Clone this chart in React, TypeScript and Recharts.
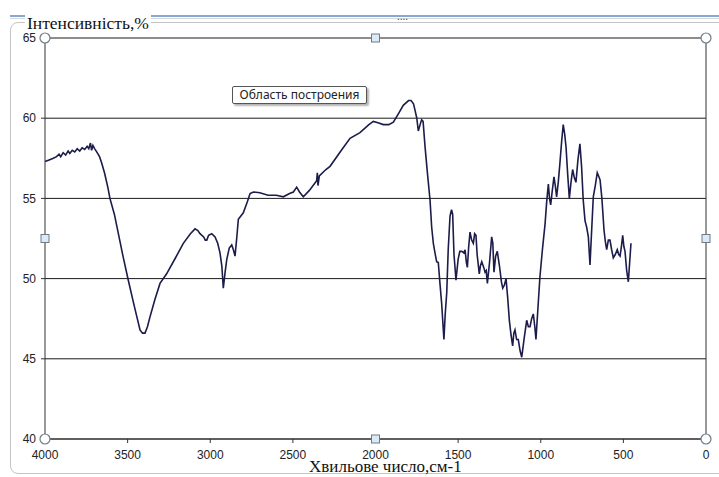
import { LineChart, Line, XAxis, YAxis, CartesianGrid, ReferenceLine, ReferenceDot } from "recharts";

// wavenumber, cm-1
const wavenumbers = [
  4000, 3975, 3950, 3930, 3915, 3905, 3890, 3875, 3860, 3850, 3835, 3820, 3805, 3790, 3775, 3760,
  3745, 3735, 3725, 3718, 3710, 3700, 3687, 3670, 3657, 3640, 3620, 3607, 3580, 3556, 3530, 3496,
  3460, 3425, 3410, 3395, 3380, 3365, 3335, 3304, 3264, 3210, 3163, 3120, 3092, 3075, 3062, 3040,
  3030, 3021, 3010, 2991, 2971, 2955, 2941, 2930, 2921, 2910, 2900, 2885, 2870, 2860, 2850, 2840,
  2830, 2800, 2775, 2759, 2739, 2700, 2650, 2600, 2558, 2520, 2497, 2477, 2460, 2437, 2400, 2356,
  2352, 2348, 2340, 2300, 2275, 2200, 2154, 2094, 2040, 2013, 1980, 1953, 1920, 1892, 1860, 1832,
  1800, 1785, 1770, 1761, 1750, 1741, 1730, 1721, 1712, 1700, 1685, 1670, 1660, 1650, 1640, 1630,
  1620, 1610, 1600, 1586, 1578, 1569, 1560, 1549, 1540, 1533, 1525, 1513, 1500, 1490, 1478, 1465,
  1458, 1450, 1444, 1436, 1428, 1418, 1408, 1400, 1392, 1385, 1372, 1365, 1357, 1345, 1337, 1330,
  1323, 1310, 1297, 1290, 1283, 1273, 1263, 1250, 1238, 1230, 1220, 1210, 1200, 1190, 1180, 1170,
  1163, 1156, 1146, 1136, 1125, 1115, 1100, 1085, 1075, 1065, 1055, 1045, 1036, 1029, 1018, 1005,
  990, 974, 964, 954, 947, 940, 930, 920, 912, 904, 894, 884, 874, 864, 855, 847,
  837, 827, 817, 807, 797, 787, 775, 763, 753, 743, 732, 722, 712, 702, 692, 682,
  670, 658, 650, 641, 630, 617, 609, 601, 591, 581, 571, 561, 549, 537, 528, 520,
  512, 504, 497, 490, 480, 470, 462, 454,
];

// intensity, %
const intensity = [
  57.3, 57.4, 57.5, 57.6, 57.75, 57.6, 57.85, 57.7, 57.95, 57.8, 58.0, 57.9, 58.1, 57.95, 58.15, 58.05,
  58.25, 58.1, 58.45, 58.0, 58.3, 58.1, 57.9, 57.6, 57.2, 56.6, 55.7, 55.0, 54.0, 52.8, 51.5, 49.9,
  48.3, 46.8, 46.6, 46.6, 47.0, 47.6, 48.7, 49.7, 50.3, 51.3, 52.2, 52.8, 53.1, 53.0, 52.8, 52.6,
  52.4, 52.4, 52.7, 52.8, 52.6, 52.2, 51.6, 50.8, 49.4, 50.4, 51.2, 51.9, 52.1, 51.8, 51.4, 52.5,
  53.7, 54.1, 54.8, 55.3, 55.4, 55.35, 55.2, 55.2, 55.1, 55.3, 55.4, 55.7, 55.4, 55.1, 55.5, 56.1,
  56.6, 55.8, 56.4, 56.8, 57.0, 58.1, 58.75, 59.1, 59.6, 59.8, 59.7, 59.6, 59.6, 59.75, 60.3, 60.8,
  61.1, 61.1, 60.9, 60.5, 60.0, 59.2, 59.6, 59.9, 59.8, 58.2, 56.5, 54.9, 53.2, 52.2, 51.6, 51.05,
  51.0, 49.7, 48.5, 46.2, 47.8, 49.1, 51.8, 53.9, 54.3, 54.0, 51.5, 49.9, 51.2, 51.7, 51.7, 51.6,
  51.8, 51.0, 50.7, 52.0, 52.9, 52.4, 52.2, 52.8, 52.7, 51.5, 50.3, 50.8, 51.05, 50.7, 50.4, 50.5,
  49.7, 51.0, 52.6, 52.2, 50.4, 51.4, 51.7, 50.8, 49.8, 49.4, 49.6, 50.0, 48.8, 47.4, 46.5, 45.8,
  46.6, 46.8, 46.2, 46.2, 45.5, 45.1, 46.3, 47.4, 47.0, 47.0, 47.5, 47.8, 47.0, 46.2, 48.0, 50.1,
  51.8, 53.4, 54.8, 55.9, 55.0, 54.6, 55.5, 56.35, 55.8, 55.1, 56.0, 57.2, 58.5, 59.6, 59.0, 58.2,
  56.5, 55.0, 56.0, 56.8, 56.3, 56.0, 57.4, 58.4, 57.0, 54.9, 53.6, 53.2, 52.6, 50.85, 53.0, 55.1,
  55.8, 56.6, 56.4, 56.15, 55.0, 53.0, 52.3, 51.8, 52.4, 52.4, 51.8, 51.3, 51.5, 51.8, 51.5, 51.4,
  52.0, 52.7, 52.0, 51.7, 50.5, 49.8, 51.0, 52.2,
];

const xTicks = [4000, 3500, 3000, 2500, 2000, 1500, 1000, 500, 0];
const yTicks = [40, 45, 50, 55, 60, 65];

const data = wavenumbers.map((w, i) => ({ w, v: intensity[i] }));

const tickStyle = { fill: "#222", fontSize: 12, fontFamily: "'Liberation Sans', Arial, sans-serif" };
const serif = "'Liberation Serif', 'Times New Roman', serif";

const circleHandle = (p: any) => (
  <circle cx={p.cx} cy={p.cy} r={5} fill="#fff" stroke="#6f7c88" strokeWidth={1.2} />
);
const squareHandle = (p: any) => (
  <rect x={p.cx - 4} y={p.cy - 4} width={8} height={8} fill="#dce9f6" stroke="#6f7c88" strokeWidth={1} />
);

export default function App() {
  return (
    <div style={{ position: "absolute", left: 0, top: 0, width: 719, height: 477, background: "#fff", overflow: "hidden" }}>
      {/* chart area frame */}
      <div
        style={{
          position: "absolute", left: 10, top: 22, width: 720, height: 450,
          border: "1px solid #c4c4c4", borderRadius: 8,
        }}
      />
      <div style={{ position: "absolute", left: 10, top: 15, width: 709, height: 2, background: "#86a8d2" }} />
      <div style={{ position: "absolute", left: 10, top: 18, width: 709, height: 1, background: "#d8d8d8" }} />
      <div style={{ position: "absolute", left: 397, top: 13, fontSize: 10, lineHeight: "8px", color: "#333", fontFamily: "'Liberation Sans', sans-serif" }}>....</div>

      <LineChart width={719} height={477} data={data} margin={{ top: 38, right: 13, bottom: 18, left: 0 }}>
        <CartesianGrid vertical={false} stroke="#1a1a1a" strokeWidth={1} />
        <XAxis
          dataKey="w"
          type="number"
          domain={[0, 4000]}
          reversed
          ticks={xTicks}
          interval={0}
          height={20}
          tick={tickStyle}
          tickSize={4}
          tickMargin={7}
          axisLine={{ stroke: "#333" }}
          tickLine={{ stroke: "#333" }}
        />
        <YAxis
          type="number"
          domain={[40, 65]}
          ticks={yTicks}
          interval={0}
          width={45}
          tick={tickStyle}
          tickSize={4}
          tickMargin={5}
          axisLine={{ stroke: "#333" }}
          tickLine={{ stroke: "#333" }}
        />
        <ReferenceLine x={0} stroke="#333" />
        <Line
          dataKey="v"
          type="linear"
          stroke="#1c1c4a"
          strokeWidth={1.6}
          dot={false}
          isAnimationActive={false}
        />
        <ReferenceDot x={4000} y={65} ifOverflow="visible" shape={circleHandle} />
        <ReferenceDot x={0} y={65} ifOverflow="visible" shape={circleHandle} />
        <ReferenceDot x={4000} y={40} ifOverflow="visible" shape={circleHandle} />
        <ReferenceDot x={0} y={40} ifOverflow="visible" shape={circleHandle} />
        <ReferenceDot x={2000} y={65} ifOverflow="visible" shape={squareHandle} />
        <ReferenceDot x={2000} y={40} ifOverflow="visible" shape={squareHandle} />
        <ReferenceDot x={4000} y={52.5} ifOverflow="visible" shape={squareHandle} />
        <ReferenceDot x={0} y={52.5} ifOverflow="visible" shape={squareHandle} />
      </LineChart>

      <div
        style={{
          position: "absolute", left: 25, top: 14, padding: "0 2px", background: "#fff",
          fontFamily: serif, fontSize: 17.5, lineHeight: "18px", color: "#111", whiteSpace: "nowrap",
        }}
      >
        Інтенсивність,%
      </div>
      <div
        style={{
          position: "absolute", left: 309, top: 460, whiteSpace: "nowrap",
          fontFamily: serif, fontSize: 17, lineHeight: "14px", color: "#111",
        }}
      >
        Хвильове число,см-1
      </div>
      <div
        style={{
          position: "absolute", left: 232, top: 86, width: 135, height: 18, boxSizing: "border-box",
          border: "1px solid #555", borderRadius: 2, background: "#fff", boxShadow: "2px 2px 2px rgba(0,0,0,0.3)",
          fontFamily: "'Noto Sans', sans-serif", fontSize: 12, lineHeight: "16px", color: "#222", textAlign: "center",
        }}
      >
        Область построения
      </div>
    </div>
  );
}
